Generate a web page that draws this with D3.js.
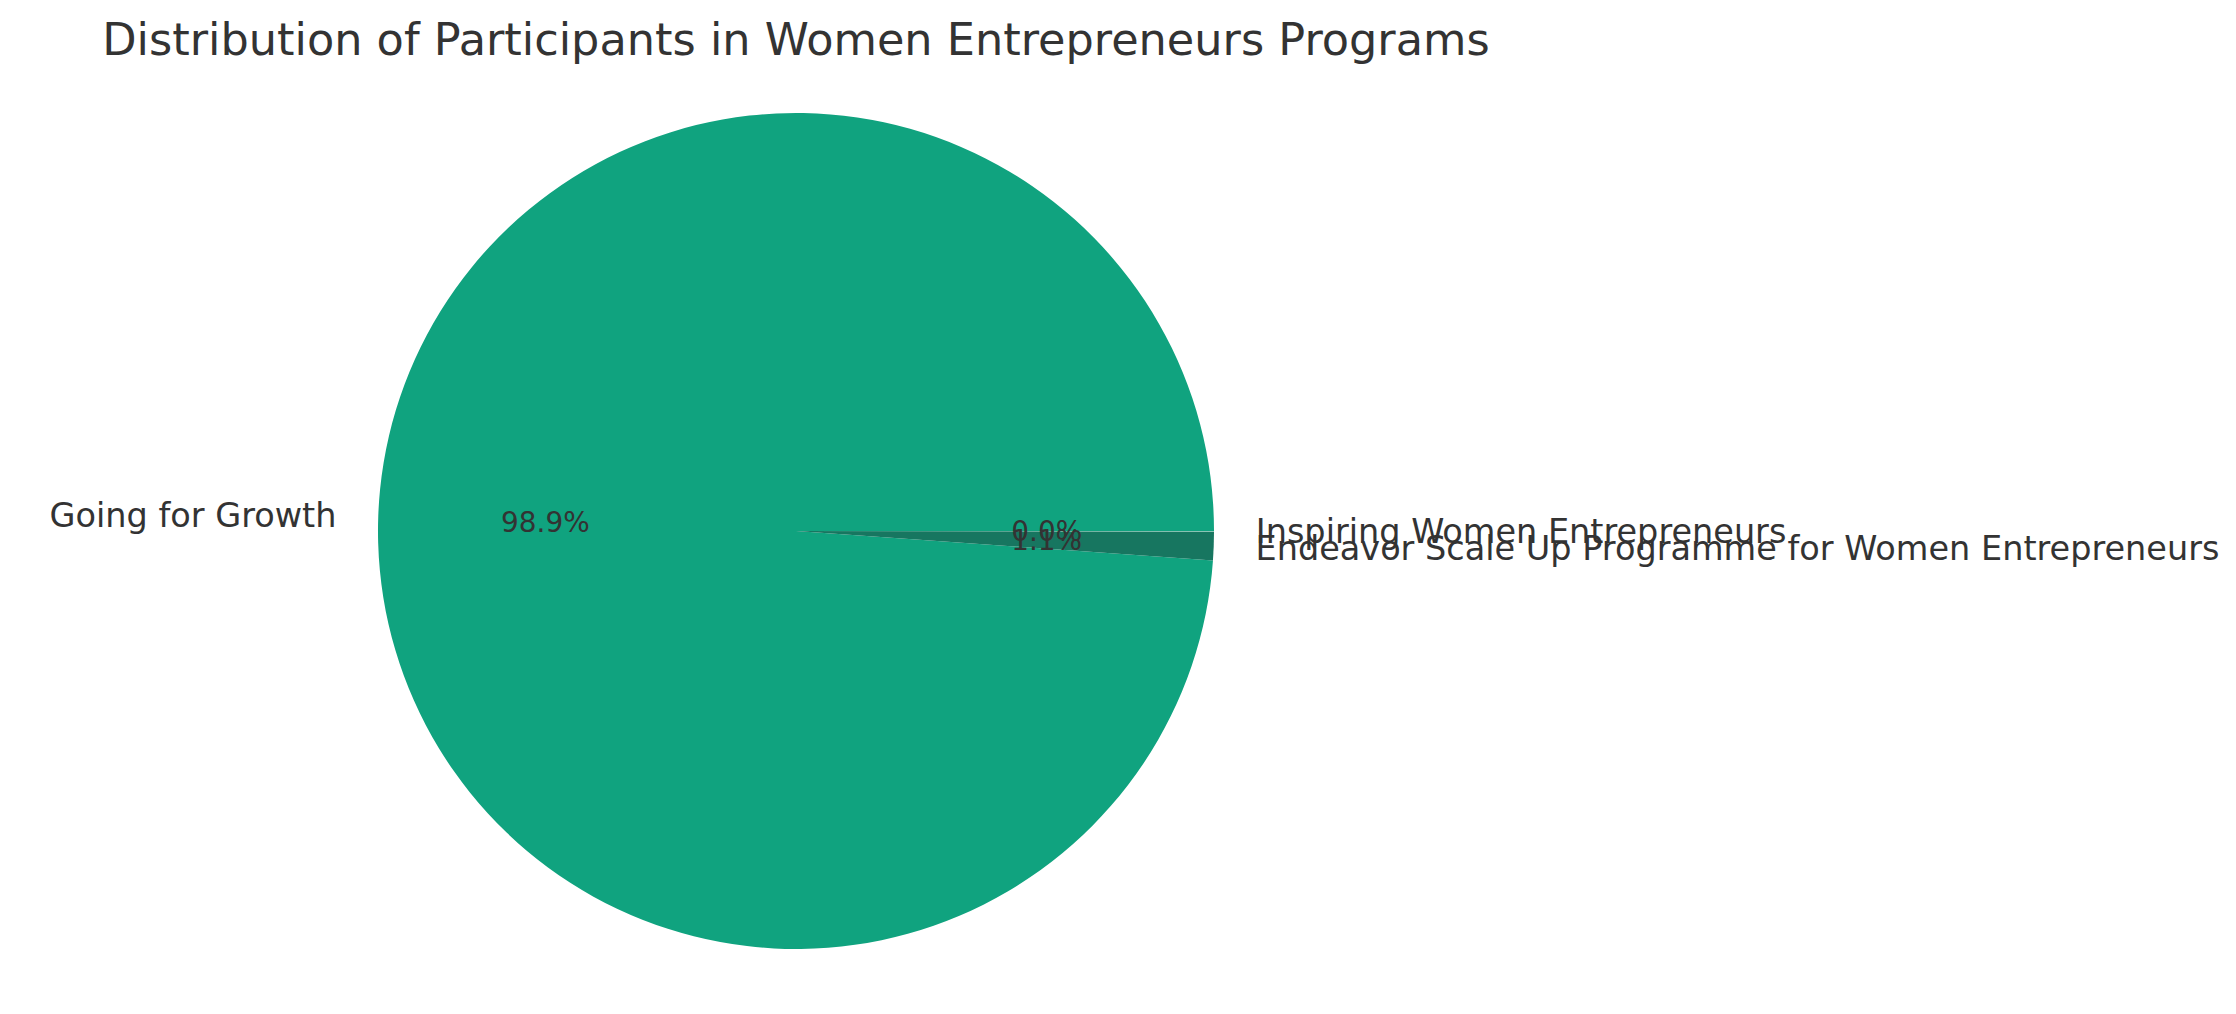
<!DOCTYPE html>
<html>
<head>
<meta charset="utf-8">
<script src="https://cdn.jsdelivr.net/npm/d3@7"></script>
<style>
  body { margin: 0; background: #fff; }
  text { font-family: "DejaVu Sans", sans-serif; fill: #333; }
</style>
</head>
<body>
<script>
var width = 2236,
    height = 1014;

// programs, in the order they are drawn (counter-clockwise from 3 o'clock)
var programs = ["Going for Growth", "Endeavor Scale Up Programme for Women Entrepreneurs", "Inspiring Women Entrepreneurs"];
var participants = [900, 10, 0.2];
var colors = ["#10a37f", "#177660", "#8fd1bd"];

var cx = 796, cy = 531, radius = 418;

var svg = d3.select("body")
  .append("svg")
  .attr("width", width)
  .attr("height", height);

var data = programs.map(function(p, i) { return { name: p, value: participants[i], color: colors[i] }; });
var total = d3.sum(participants);

// matplotlib style: start at 3 o'clock, go counter-clockwise
var pie = d3.pie()
  .sort(null)
  .value(function(d) { return d.value; })
  .startAngle(Math.PI / 2)
  .endAngle(Math.PI / 2 - 2 * Math.PI);

var arcs = pie(data);

var arc = d3.arc().innerRadius(0).outerRadius(radius);
var labelArc = d3.arc().innerRadius(radius * 1.1).outerRadius(radius * 1.1);
var pctArc = d3.arc().innerRadius(radius * 0.6).outerRadius(radius * 0.6);

var g = svg.append("g")
  .attr("transform", "translate(" + cx + "," + cy + ")");

g.selectAll("path")
  .data(arcs)
  .enter().append("path")
  .attr("d", arc)
  .attr("fill", function(d) { return d.data.color; });

g.selectAll("text.label")
  .data(arcs)
  .enter().append("text")
  .attr("class", "label")
  .attr("x", function(d) { return labelArc.centroid(d)[0]; })
  .attr("y", function(d) { return labelArc.centroid(d)[1]; })
  .attr("dy", "0.36em")
  .attr("text-anchor", function(d) { return labelArc.centroid(d)[0] > 0 ? "start" : "end"; })
  .attr("font-size", 33.5)
  .text(function(d) { return d.data.name; });

g.selectAll("text.pct")
  .data(arcs)
  .enter().append("text")
  .attr("class", "pct")
  .attr("x", function(d) { return pctArc.centroid(d)[0]; })
  .attr("y", function(d) { return pctArc.centroid(d)[1]; })
  .attr("dy", "0.36em")
  .attr("text-anchor", "middle")
  .attr("font-size", 27.9)
  .text(function(d) { return (d.data.value / total * 100).toFixed(1) + "%"; });

svg.append("text")
  .attr("x", cx)
  .attr("y", 55)
  .attr("text-anchor", "middle")
  .attr("font-size", 44.6)
  .text("Distribution of Participants in Women Entrepreneurs Programs");
</script>
</body>
</html>
